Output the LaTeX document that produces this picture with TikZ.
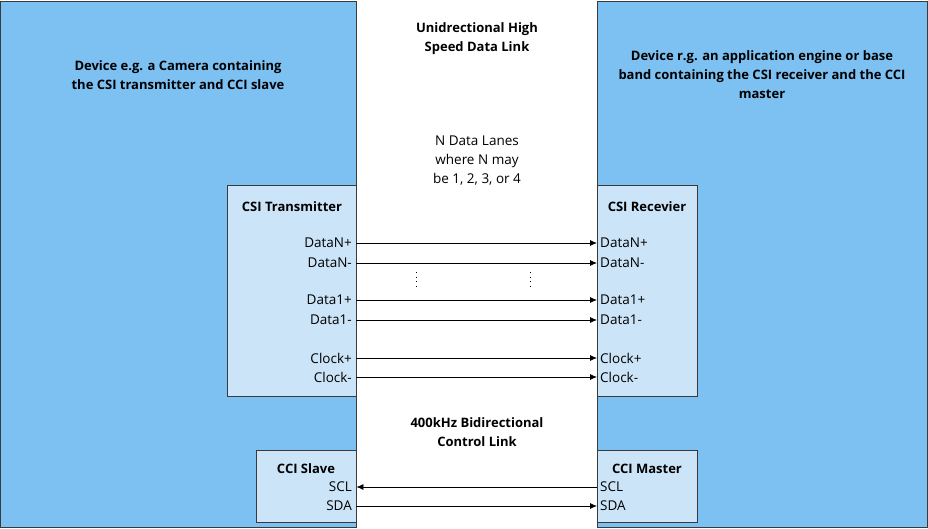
\documentclass[tikz,border=0pt]{standalone}
\usepackage{fontspec}
\setmainfont{Open Sans}
\usetikzlibrary{positioning,arrows.meta}

\definecolor{devblue}{HTML}{7DC1F2}
\definecolor{unitblue}{HTML}{CCE4F7}
\definecolor{edge}{HTML}{3A3A3A}

\tikzset{
  device/.style={draw=edge, fill=devblue, anchor=north west, inner sep=0pt},
  unit/.style={draw=edge, fill=unitblue, anchor=north west, inner sep=0pt},
  title/.style={font=\fontsize{13}{19}\selectfont\bfseries, align=center, inner sep=0pt},
  note/.style={font=\fontsize{13.5}{19}\selectfont, align=center, inner sep=0pt},
  sig/.style={font=\fontsize{13.5}{14}\selectfont, inner sep=0pt},
  link/.style={-{Latex[length=7pt,width=6pt]}, line width=0.8pt, black},
  gap/.style={line width=1pt, dash pattern=on 1pt off 3.5pt},
}

\begin{document}
\begin{tikzpicture}[x=1pt, y=-1pt]
\useasboundingbox (0,0) rectangle (928,529);

% devices
\node[device, minimum width=356pt, minimum height=526pt] (cam) at (0,1) {};
\node[device, minimum width=330pt, minimum height=526pt] (host) at (597,1) {};
\node[title] at (178,75) {Device e.g. a Camera containing\\the CSI transmitter and CCI slave};
\node[title] at (762,75) {Device r.g. an application engine or base\\band containing the CSI receiver and the CCI\\master};

% link captions
\node[title] at (477,39) {Unidrectional High\\Speed Data Link};
\node[note] at (477,161) {N Data Lanes\\where N may\\be 1, 2, 3, or 4};
\node[title] at (477,432) {400kHz Bidirectional\\Control Link};

% CSI units
\node[unit, minimum width=129pt, minimum height=211pt] (tx) at (227,185) {};
\node[unit, minimum width=100pt, minimum height=211pt] (rx) at (597,185) {};
\node[title] at (292,207) {CSI Transmitter};
\node[title] at (647,207) {CSI Recevier};

% CCI units
\node[unit, minimum width=100pt, minimum height=72pt] (slave) at (256,450) {};
\node[unit, minimum width=100pt, minimum height=72pt] (master) at (597,450) {};
\node[title] at (306,469) {CCI Slave};
\node[title] at (647,469) {CCI Master};

% lane labels
\foreach \name/\txt/\y in {dnp/DataN+/243, dnm/DataN-/263, dap/Data1+/300,
                           dam/Data1-/320, ckp/Clock+/358, ckm/Clock-/377}{
  \node[sig, anchor=east] (tx\name) at (352,\y) {\txt};
  \node[sig, anchor=west] (rx\name) at (600,\y) {\txt};
  \draw[link] (tx.east |- tx\name) -- (rx.west |- rx\name);
}

% omitted lanes
\draw[gap] (416,272) -- (416,289);
\draw[gap] (530,272) -- (530,289);

% control link
\node[sig, anchor=east] (slscl) at (352,487) {SCL};
\node[sig, anchor=east] (slsda) at (352,506) {SDA};
\node[sig, anchor=west] (mascl) at (600,487) {SCL};
\node[sig, anchor=west] (masda) at (600,506) {SDA};
\draw[link] (master.west |- mascl) -- (slave.east |- slscl);
\draw[link] (slave.east |- slsda) -- (master.west |- masda);

\end{tikzpicture}
\end{document}
